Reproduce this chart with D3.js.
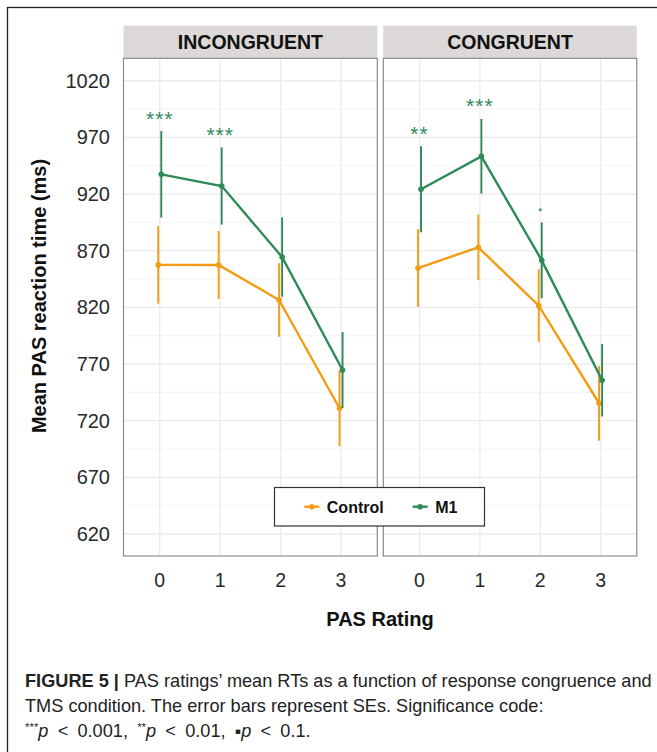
<!DOCTYPE html>
<html>
<head>
<meta charset="utf-8">
<script src="https://cdn.jsdelivr.net/npm/d3@7"></script>
<style>
  html, body { margin: 0; padding: 0; background: #fff; }
  svg { display: block; font-family: "Liberation Sans", Arial, Helvetica, sans-serif; }
</style>
</head>
<body>
<svg id="chart" width="657" height="752"></svg>
<script>
// ---------------- DATA ----------------
const panels = ["INCONGRUENT", "CONGRUENT"];
const ratings = [0, 1, 2, 3];
const groups = ["Control", "M1"];
const colors = ["#F39C12", "#2E8B57"];

// means [panel][rating]
const controlMean = [[857.5, 857.4, 826.5, 731.0], [854.7, 873.0, 821.5, 735.4]];
const controlSE   = [[34.2, 30.0, 32.5, 33.5], [34.2, 28.9, 32.0, 33.0]];
const m1Mean      = [[937.4, 927.1, 864.4, 764.7], [924.2, 953.3, 861.5, 755.7]];
const m1SE        = [[38.2, 34.1, 35.0, 33.5], [38.0, 33.0, 33.5, 32.0]];

// significance labels [panel][rating]
const sigLabels = [["***", "***", "", ""], ["**", "***", ".", ""]];

const yTicks = [620, 670, 720, 770, 820, 870, 920, 970, 1020];
const yMinor = [645, 695, 745, 795, 845, 895, 945, 995];
const yDomain = [600.6, 1039.8];
const xDomain = [-0.6, 3.6];

const yTitle = "Mean PAS reaction time (ms)";
const xTitle = "PAS Rating";

// ---------------- LAYOUT ----------------
const svg = d3.select("#chart");
const panelX = [[123.5, 377.3], [383.3, 636.8]];
const panelTop = 58.3, panelBottom = 556;
const stripTop = 25.7;

// outer frame
svg.append("rect").attr("x", 7.5).attr("y", 7.5).attr("width", 700).attr("height", 800)
  .attr("fill", "none").attr("stroke", "#222").attr("stroke-width", 1.3);

const y = d3.scaleLinear().domain(yDomain).range([panelBottom, panelTop]);

const series = [
  { name: groups[0], color: colors[0], mean: controlMean, se: controlSE, dodge: -0.025 },
  { name: groups[1], color: colors[1], mean: m1Mean, se: m1SE, dodge: 0.025 }
];

panels.forEach((pname, pi) => {
  const x = d3.scaleLinear().domain(xDomain).range(panelX[pi]);
  const g = svg.append("g");
  const x0 = panelX[pi][0], x1 = panelX[pi][1];

  // strip
  g.append("rect").attr("x", x0).attr("y", stripTop).attr("width", x1 - x0)
    .attr("height", panelTop - stripTop).attr("fill", "#DBD8D7");
  g.append("text").attr("x", (x0 + x1) / 2).attr("y", (stripTop + panelTop) / 2 + 7)
    .attr("text-anchor", "middle").attr("font-weight", "bold").attr("font-size", 19.5)
    .attr("fill", "#111").text(pname);

  // grid
  g.selectAll(".minor").data(yMinor).join("line")
    .attr("x1", x0).attr("x2", x1).attr("y1", d => y(d)).attr("y2", d => y(d))
    .attr("stroke", "#F3F3F3").attr("stroke-width", 0.9);
  g.selectAll(".major").data(yTicks).join("line")
    .attr("x1", x0).attr("x2", x1).attr("y1", d => y(d)).attr("y2", d => y(d))
    .attr("stroke", "#EBEBEB").attr("stroke-width", 1.3);
  g.selectAll(".vmajor").data(ratings).join("line")
    .attr("x1", d => x(d)).attr("x2", d => x(d)).attr("y1", panelTop).attr("y2", panelBottom)
    .attr("stroke", "#EBEBEB").attr("stroke-width", 1.3);

  // series
  series.forEach(s => {
    const pts = ratings.map((r, i) => ({ r, m: s.mean[pi][i], se: s.se[pi][i] }));
    g.append("path").datum(pts)
      .attr("d", d3.line().x(d => x(d.r + s.dodge)).y(d => y(d.m)))
      .attr("fill", "none").attr("stroke", s.color).attr("stroke-width", 2.4);
    g.selectAll(null).data(pts).join("line")
      .attr("x1", d => x(d.r + s.dodge)).attr("x2", d => x(d.r + s.dodge))
      .attr("y1", d => y(d.m - d.se)).attr("y2", d => y(d.m + d.se))
      .attr("stroke", s.color).attr("stroke-width", 1.9);
    g.selectAll(null).data(pts).join("circle")
      .attr("cx", d => x(d.r + s.dodge)).attr("cy", d => y(d.m)).attr("r", 2.8)
      .attr("fill", s.color);
  });

  // significance labels
  ratings.forEach((r, i) => {
    const lab = sigLabels[pi][i];
    if (!lab) return;
    const top = y(m1Mean[pi][i] + m1SE[pi][i]);
    if (lab === ".") {
      g.append("text").attr("x", x(r)).attr("y", top - 11.5).attr("text-anchor", "middle")
        .attr("font-size", 16).attr("font-weight", "bold").attr("fill", colors[1]).text(lab);
    } else {
      g.append("text").attr("x", x(r)).attr("y", top - 5.5).attr("text-anchor", "middle")
        .attr("font-size", 21).attr("fill", colors[1]).attr("letter-spacing", 1).text(lab);
    }
  });

  // panel border
  g.append("rect").attr("x", x0).attr("y", panelTop).attr("width", x1 - x0)
    .attr("height", panelBottom - panelTop).attr("fill", "none")
    .attr("stroke", "#8A8A8A").attr("stroke-width", 1.2);

  // x tick labels
  g.selectAll(".xt").data(ratings).join("text")
    .attr("x", d => x(d)).attr("y", 587).attr("text-anchor", "middle")
    .attr("font-size", 19.5).attr("fill", "#2a2a2a").text(d => d);
});

// y tick labels
svg.selectAll(".yt").data(yTicks).join("text")
  .attr("x", 110).attr("y", d => y(d) + 7).attr("text-anchor", "end")
  .attr("font-size", 20).attr("fill", "#2a2a2a").text(d => d);

// axis titles
svg.append("text").attr("transform", "translate(46,296) rotate(-90)")
  .attr("text-anchor", "middle").attr("font-weight", "bold").attr("font-size", 20)
  .attr("fill", "#111").text(yTitle);
svg.append("text").attr("x", 380).attr("y", 626).attr("text-anchor", "middle")
  .attr("font-weight", "bold").attr("font-size", 20).attr("fill", "#111").text(xTitle);

// legend
const lg = svg.append("g");
lg.append("rect").attr("x", 274.5).attr("y", 487.5).attr("width", 210).attr("height", 38.5)
  .attr("fill", "#fff").attr("stroke", "#333").attr("stroke-width", 1.2);
const legX = [304.3, 412.7];
groups.forEach((gname, i) => {
  lg.append("line").attr("x1", legX[i]).attr("x2", legX[i] + 15).attr("y1", 506.7).attr("y2", 506.7)
    .attr("stroke", colors[i]).attr("stroke-width", 2.4);
  lg.append("circle").attr("cx", legX[i] + 7.5).attr("cy", 506.7).attr("r", 2.8).attr("fill", colors[i]);
  lg.append("text").attr("x", legX[i] + 22.5).attr("y", 512.5).attr("font-weight", "bold")
    .attr("font-size", 16).attr("fill", "#111").text(gname);
});

// caption (horizontally condensed to match the reference face)
const capOuter = svg.append("g").attr("transform", "translate(25,0)");
const cap = capOuter.append("g").attr("fill", "#222").attr("font-size", 17.5);
const l1 = cap.append("text").attr("x", 0).attr("y", 687);
l1.append("tspan").attr("font-weight", "bold").text("FIGURE 5 | ");
l1.append("tspan").text("PAS ratings\u2019 mean RTs as a function of response congruence and");
cap.append("text").attr("x", 0).attr("y", 712)
  .text("TMS condition. The error bars represent SEs. Significance code:");
const l3 = cap.append("text").attr("x", 0).attr("y", 737).attr("word-spacing", 4);
l3.append("tspan").attr("font-size", 11).attr("dy", -6).text("***");
l3.append("tspan").attr("font-style", "italic").attr("dy", 6).text("p");
l3.append("tspan").text(" < 0.001, ");
l3.append("tspan").attr("font-size", 11).attr("dy", -6).text("**");
l3.append("tspan").attr("font-style", "italic").attr("dy", 6).text("p");
l3.append("tspan").text(" < 0.01, \u25AA");
l3.append("tspan").attr("font-style", "italic").text("p");
l3.append("tspan").text(" < 0.1.");
const natural = l1.node().getComputedTextLength();
cap.attr("transform", `scale(${627 / natural},1)`);
</script>
</body>
</html>
